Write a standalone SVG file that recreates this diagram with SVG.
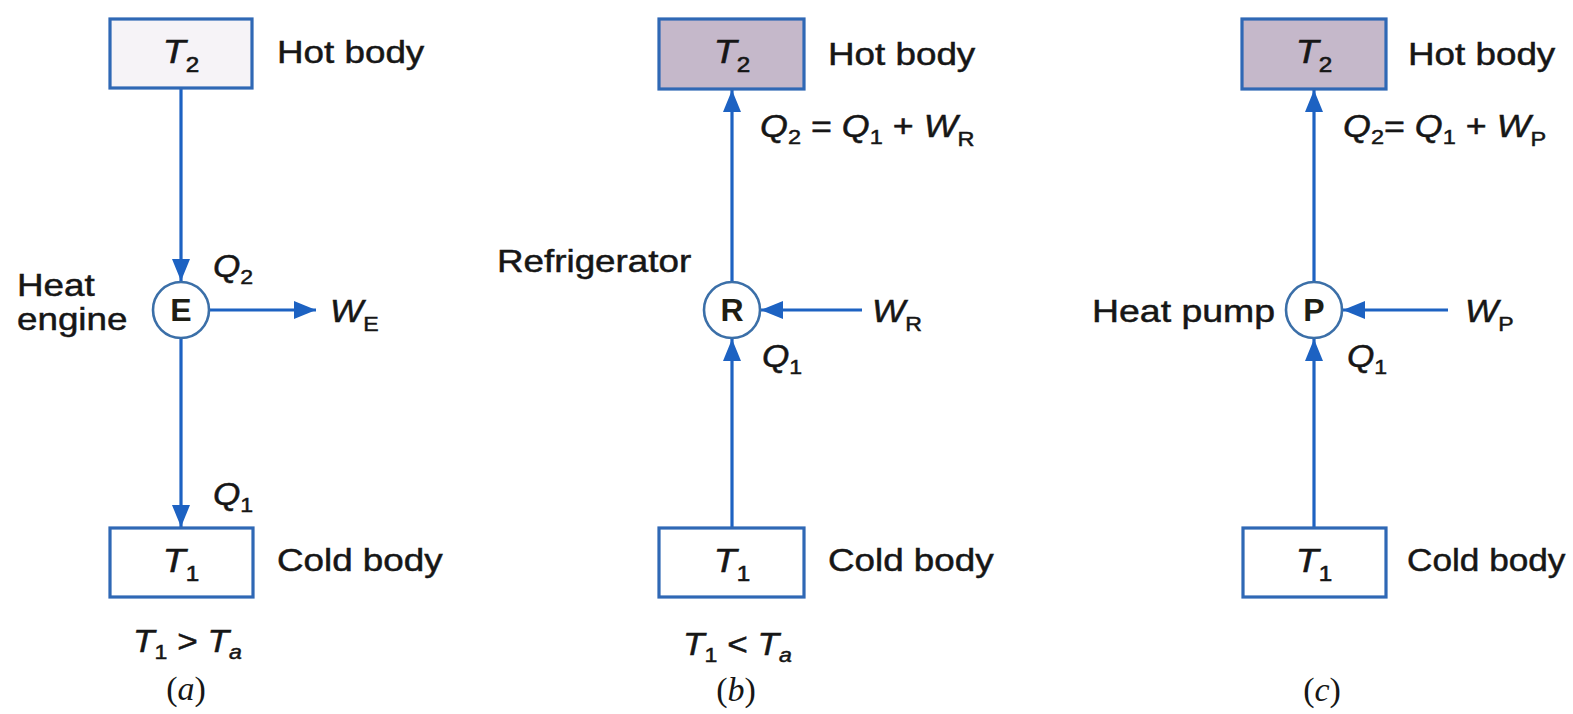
<svg xmlns="http://www.w3.org/2000/svg" width="1573" height="714" viewBox="0 0 1573 714">
<defs>
<style>
.t{font-family:"Liberation Sans",Arial,sans-serif;font-size:32px;fill:#161616;stroke:#161616;stroke-width:0.5}
.i{font-style:italic}
.s{font-size:21px;font-style:normal}
.sa{font-size:21px;font-style:italic}
.bt{font-family:"Liberation Sans",Arial,sans-serif;font-size:34px;font-style:italic;fill:#161616;stroke:#161616;stroke-width:0.6}
.bs{font-size:22px;font-style:normal}
.cap{font-family:"Liberation Serif","Times New Roman",serif;font-size:34px;fill:#161616}
.box{stroke:#2f68b5;stroke-width:3.2;fill:#ffffff}
.hot{fill:#c5b8ca}
.hotA{fill:#f6f3f7}
.node{fill:#ffffff;stroke:#3b6fa8;stroke-width:2.6}
.nl{font-family:"Liberation Sans",Arial,sans-serif;font-size:32px;font-weight:bold;fill:#1e1e14;text-anchor:middle}
.ln{stroke:#1d62c2;stroke-width:3.2;fill:none}
</style>
<marker id="ah" markerUnits="userSpaceOnUse" markerWidth="24" markerHeight="20" refX="22" refY="9" orient="auto" viewBox="0 0 24 18"><path d="M0,0 L22,9 L0,18 Z" fill="#1d62c2"/></marker>
</defs>
<rect width="1573" height="714" fill="#ffffff"/>

<g id="connectors">
<line class="ln" x1="181" y1="89" x2="181" y2="281" marker-end="url(#ah)"/>
<line class="ln" x1="210" y1="310" x2="316" y2="310" marker-end="url(#ah)"/>
<line class="ln" x1="181" y1="338" x2="181" y2="527" marker-end="url(#ah)"/>
<line class="ln" x1="732" y1="528" x2="732" y2="339" marker-end="url(#ah)"/>
<line class="ln" x1="732" y1="282" x2="732" y2="90" marker-end="url(#ah)"/>
<line class="ln" x1="862" y1="310" x2="761" y2="310" marker-end="url(#ah)"/>
<line class="ln" x1="1314" y1="528" x2="1314" y2="339" marker-end="url(#ah)"/>
<line class="ln" x1="1314" y1="282" x2="1314" y2="90" marker-end="url(#ah)"/>
<line class="ln" x1="1448" y1="310" x2="1343" y2="310" marker-end="url(#ah)"/>
</g>

<g id="a-hot">
<rect class="box hotA" x="110" y="19" width="142" height="69"/>
<text class="bt" text-anchor="middle" transform="translate(181 63) scale(1.1 1)">T<tspan class="bs" dy="9">2</tspan></text>
<text class="t" transform="translate(277 63) scale(1.15 1)">Hot body</text>
</g>
<g id="a-engine">
<circle class="node" cx="181" cy="310" r="28"/>
<text class="nl" x="181" y="321">E</text>
<text class="t" transform="translate(17 296) scale(1.15 1)">Heat</text>
<text class="t" transform="translate(17 330) scale(1.15 1)">engine</text>
</g>
<g id="a-cold">
<rect class="box" x="110" y="528" width="143" height="69"/>
<text class="bt" text-anchor="middle" transform="translate(181 572) scale(1.1 1)">T<tspan class="bs" dy="9">1</tspan></text>
<text class="t" transform="translate(277 571) scale(1.15 1)">Cold body</text>
</g>
<g id="a-labels">
<text class="t" transform="translate(213 277) scale(1.1 1)"><tspan class="i">Q</tspan><tspan class="s" dy="7">2</tspan></text>
<text class="t" transform="translate(330 322) scale(1.1 1)"><tspan class="i">W</tspan><tspan class="s" dy="9">E</tspan></text>
<text class="t" transform="translate(213 505) scale(1.1 1)"><tspan class="i">Q</tspan><tspan class="s" dy="7">1</tspan></text>
<text class="t" transform="translate(133 652) scale(1.1 1)"><tspan class="i">T</tspan><tspan class="s" dy="7">1</tspan><tspan dy="-7"> &gt; </tspan><tspan class="i">T</tspan><tspan class="sa" dy="7">a</tspan></text>
<text class="cap" text-anchor="middle" x="186" y="700">(<tspan font-style="italic">a</tspan>)</text>
</g>

<g id="b-hot">
<rect class="box hot" x="659" y="19" width="145" height="70"/>
<text class="bt" text-anchor="middle" transform="translate(732 63) scale(1.1 1)">T<tspan class="bs" dy="9">2</tspan></text>
<text class="t" transform="translate(828 65) scale(1.15 1)">Hot body</text>
</g>
<g id="b-refrigerator">
<circle class="node" cx="732" cy="310" r="28"/>
<text class="nl" x="732" y="321">R</text>
<text class="t" transform="translate(497 272) scale(1.15 1)">Refrigerator</text>
</g>
<g id="b-cold">
<rect class="box" x="659" y="528" width="145" height="69"/>
<text class="bt" text-anchor="middle" transform="translate(732 572) scale(1.1 1)">T<tspan class="bs" dy="9">1</tspan></text>
<text class="t" transform="translate(828 571) scale(1.15 1)">Cold body</text>
</g>
<g id="b-labels">
<text class="t" transform="translate(760 137) scale(1.12 1)"><tspan class="i">Q</tspan><tspan class="s" dy="7">2</tspan><tspan dy="-7"> = </tspan><tspan class="i">Q</tspan><tspan class="s" dy="7">1</tspan><tspan dy="-7"> + </tspan><tspan class="i">W</tspan><tspan class="s" dy="9">R</tspan></text>
<text class="t" transform="translate(872 322) scale(1.1 1)"><tspan class="i">W</tspan><tspan class="s" dy="9">R</tspan></text>
<text class="t" transform="translate(762 367) scale(1.1 1)"><tspan class="i">Q</tspan><tspan class="s" dy="7">1</tspan></text>
<text class="t" transform="translate(683 655) scale(1.1 1)"><tspan class="i">T</tspan><tspan class="s" dy="7">1</tspan><tspan dy="-7"> &lt; </tspan><tspan class="i">T</tspan><tspan class="sa" dy="7">a</tspan></text>
<text class="cap" text-anchor="middle" x="736" y="701">(<tspan font-style="italic">b</tspan>)</text>
</g>

<g id="c-hot">
<rect class="box hot" x="1242" y="19" width="144" height="70"/>
<text class="bt" text-anchor="middle" transform="translate(1314 63) scale(1.1 1)">T<tspan class="bs" dy="9">2</tspan></text>
<text class="t" transform="translate(1408 65) scale(1.15 1)">Hot body</text>
</g>
<g id="c-pump">
<circle class="node" cx="1314" cy="310" r="28"/>
<text class="nl" x="1314" y="321">P</text>
<text class="t" transform="translate(1092 322) scale(1.17 1)">Heat pump</text>
</g>
<g id="c-cold">
<rect class="box" x="1243" y="528" width="143" height="69"/>
<text class="bt" text-anchor="middle" transform="translate(1314 572) scale(1.1 1)">T<tspan class="bs" dy="9">1</tspan></text>
<text class="t" transform="translate(1407 571) scale(1.1 1)">Cold body</text>
</g>
<g id="c-labels">
<text class="t" transform="translate(1343 137) scale(1.12 1)"><tspan class="i">Q</tspan><tspan class="s" dy="7">2</tspan><tspan dy="-7">= </tspan><tspan class="i">Q</tspan><tspan class="s" dy="7">1</tspan><tspan dy="-7"> + </tspan><tspan class="i">W</tspan><tspan class="s" dy="9">P</tspan></text>
<text class="t" transform="translate(1465 322) scale(1.1 1)"><tspan class="i">W</tspan><tspan class="s" dy="9">P</tspan></text>
<text class="t" transform="translate(1347 367) scale(1.1 1)"><tspan class="i">Q</tspan><tspan class="s" dy="7">1</tspan></text>
<text class="cap" text-anchor="middle" x="1322" y="701">(<tspan font-style="italic">c</tspan>)</text>
</g>
</svg>
